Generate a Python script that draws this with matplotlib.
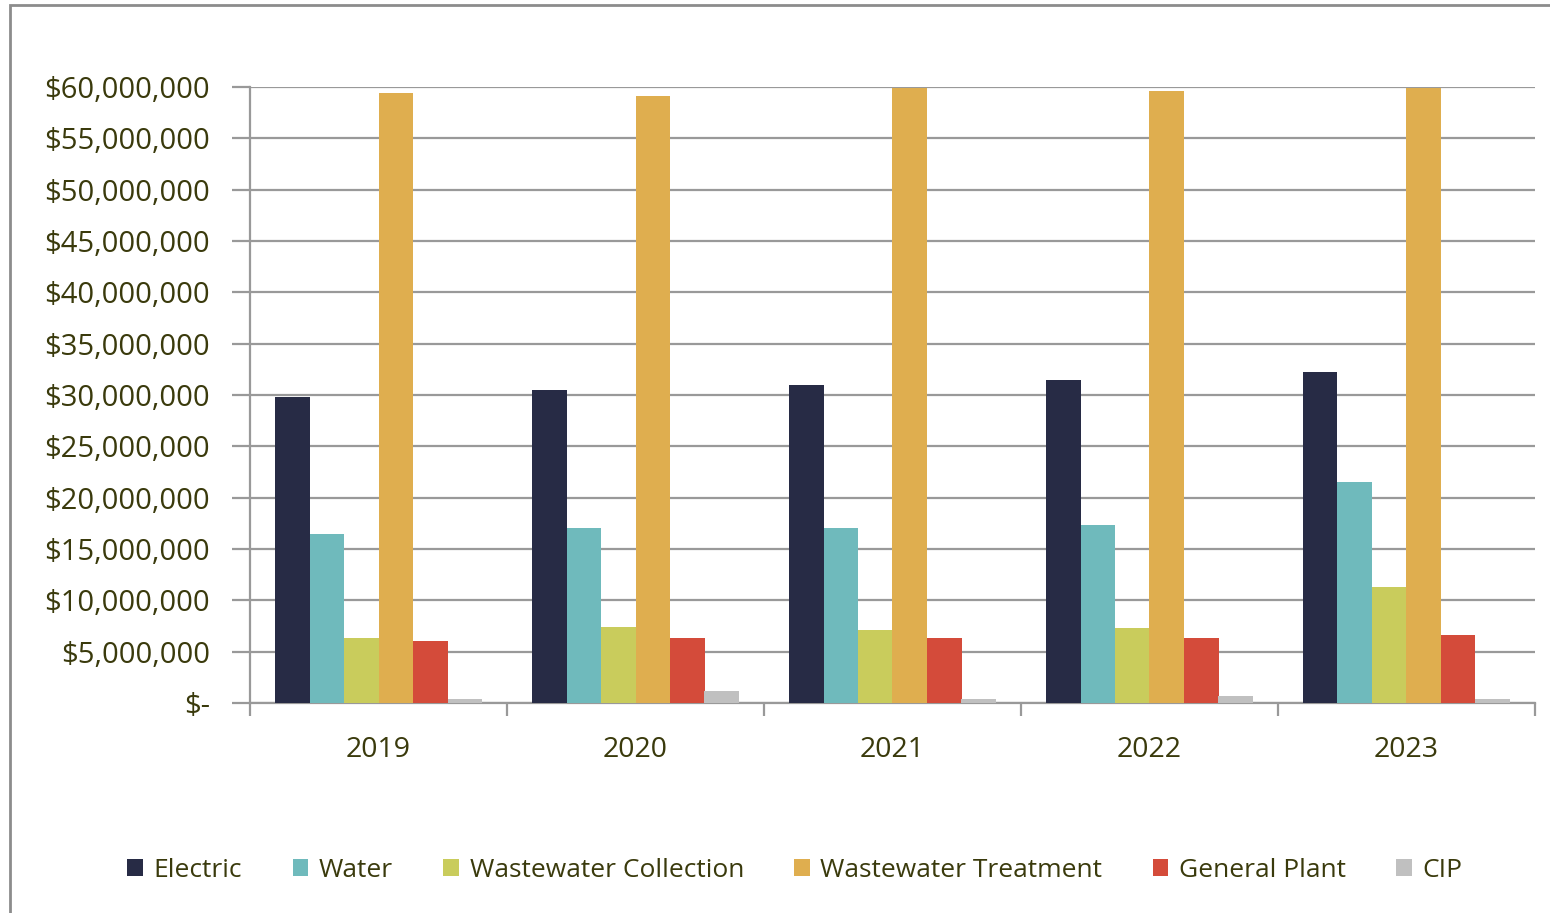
import matplotlib.pyplot as plt
import numpy as np
from matplotlib.patches import Rectangle
from matplotlib.ticker import FuncFormatter

# ---------------- DATA ----------------

years = ["2019", "2020", "2021", "2022", "2023"]
series_names = ["Electric", "Water", "Wastewater Collection",
                "Wastewater Treatment", "General Plant", "CIP"]

electric = [29.85e6, 30.5e6, 31.0e6, 31.5e6, 32.2e6]
water = [16.5e6, 17.0e6, 17.0e6, 17.3e6, 21.5e6]
ww_collection = [6.35e6, 7.4e6, 7.1e6, 7.3e6, 11.3e6]
ww_treatment = [59.4e6, 59.1e6, 59.9e6, 59.6e6, 59.9e6]
general_plant = [6.05e6, 6.3e6, 6.3e6, 6.3e6, 6.6e6]
cip = [0.35e6, 1.15e6, 0.4e6, 0.7e6, 0.35e6]

colors = ["#272B45", "#6FBABC", "#C9CC5C", "#DFAE4F", "#D44B3A", "#C0C0C0"]

TEXT = "#3A3A0C"
GRID = "#999999"

# --------------------------------------

plt.rcParams["font.family"] = ["Open Sans", "DejaVu Sans"]

fig = plt.figure(figsize=(15.5, 9.13), dpi=100)
ax = fig.add_axes([250 / 1550, 1 - 703 / 913, 1285 / 1550, 616 / 913])

all_series = [electric, water, ww_collection, ww_treatment, general_plant, cip]
x = np.arange(len(years))
bar_w = 207 / 257 / 6
start = -0.5 + 25 / 257

for i, (vals, name) in enumerate(zip(all_series, series_names)):
    ax.bar(x + start + bar_w * (i + 0.5), vals, width=bar_w, color=colors[i],
           label=name, zorder=3, linewidth=0)

ax.set_xlim(-0.5, len(years) - 0.5)
ax.set_ylim(0, 60e6)
ax.set_yticks(np.arange(0, 60e6 + 1, 5e6))


def money(v, pos):
    if v == 0:
        return "$-"
    return "${:,.0f}".format(v)


ax.yaxis.set_major_formatter(FuncFormatter(money))
ax.grid(axis="y", color=GRID, linewidth=1.6, zorder=0)

# x ticks at group boundaries, labels at centers
ax.set_xticks(np.arange(-0.5, len(years)), minor=False)
ax.set_xticklabels([])
ax.set_xticks(x, minor=True)
ax.set_xticklabels(years, minor=True)
ax.tick_params(axis="x", which="major", length=9, width=1.6, color=GRID)
ax.tick_params(axis="x", which="minor", length=0, pad=24, labelsize=20.5,
               labelcolor=TEXT)
ax.tick_params(axis="y", length=13, width=1.6, color=GRID, labelsize=21,
               labelcolor=TEXT, pad=16)

for side in ["top", "right"]:
    ax.spines[side].set_visible(False)
for side in ["left", "bottom"]:
    ax.spines[side].set_color(GRID)
    ax.spines[side].set_linewidth(1.6)

# legend
handles, labels = ax.get_legend_handles_labels()
leg = fig.legend(handles, labels, loc="center", ncol=6,
                 bbox_to_anchor=(795 / 1550, 1 - 870 / 913), frameon=False,
                 fontsize=19, handlelength=0.6, handleheight=0.6,
                 handletextpad=0.4, columnspacing=1.9)
for t in leg.get_texts():
    t.set_color(TEXT)

# outer frame
fig.patches.append(Rectangle((10 / 1550, -0.1), 1.2, 1 - 5 / 913 + 0.1,
                             transform=fig.transFigure, fill=False,
                             edgecolor="#8C8C8C", linewidth=2))

fig.savefig("out.png", dpi=100)
